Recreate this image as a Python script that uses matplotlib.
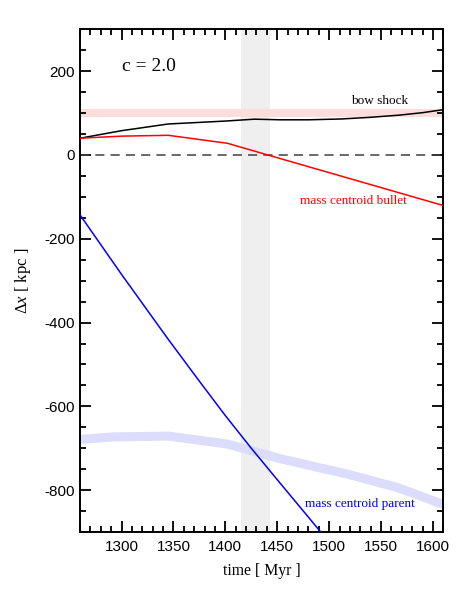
import matplotlib
matplotlib.use("Agg")
import matplotlib.pyplot as plt

# Curvas (tempo em Myr, deslocamento em kpc)
t_bow = [1260, 1300, 1345, 1400, 1428, 1453, 1480, 1512, 1540, 1567, 1590, 1612]
x_bow = [40, 58, 74, 81, 85.5, 84, 84, 86, 90, 95, 101, 109]

t_bullet = [1260, 1300, 1345, 1402, 1441, 1612]
x_bullet = [40, 45, 47, 28, 0, -122]

t_parent = [1260, 1300, 1345, 1375, 1400, 1425, 1450, 1500]
x_parent = [-143, -285, -440, -540, -622, -700, -775, -924]

# faixa azul (posição esperada do pai)
t_band = [1260, 1292, 1345, 1402, 1453, 1518, 1566, 1612]
x_band = [-679, -673, -671, -690, -725, -762, -794, -836]

# faixa rosa (choque esperado) e faixa cinza (instante de observação)
BOW_LO, BOW_HI = 90, 110
T_OBS_LO, T_OBS_HI = 1415, 1443

SERIF = "Liberation Serif"
SANS = "Liberation Sans"

plt.rcParams["axes.unicode_minus"] = False
plt.rcParams["mathtext.fontset"] = "custom"
plt.rcParams["mathtext.rm"] = SERIF
plt.rcParams["mathtext.it"] = SERIF + ":italic"

fig = plt.figure(figsize=(4.72, 5.91), dpi=100)
ax = fig.add_axes([0.1695, 0.0998, 0.7697, 0.8506])

ax.axvspan(T_OBS_LO, T_OBS_HI, color="#efefef", lw=0, zorder=0)
ax.axhspan(BOW_LO, BOW_HI, color="#fddcdc", lw=0, zorder=0)
ax.plot(t_band, x_band, color="#dcdcfc", lw=6.5, solid_capstyle="butt", zorder=1)

ax.axhline(0, color="#404040", lw=1.1, ls=(0, (6, 4)), zorder=2)
ax.plot(t_bow, x_bow, color="black", lw=1.1, zorder=3)
ax.plot(t_bullet, x_bullet, color="red", lw=1.1, zorder=3)
ax.plot(t_parent, x_parent, color="blue", lw=1.1, zorder=3)

ax.text(1300, 200, "c = 2.0", family=SERIF, fontsize=14, ha="left", va="baseline")
ax.text(1549, 121, "bow shock", family=SERIF, fontsize=9.5, ha="center", va="baseline")
ax.text(1523, -117, "mass centroid bullet", family=SERIF, fontsize=9.5,
        color="red", ha="center", va="baseline")
ax.text(1530, -841, "mass centroid parent", family=SERIF, fontsize=9.5,
        color="blue", ha="center", va="baseline")

ax.set_xlim(1260, 1610)
ax.set_ylim(-900, 300)
ax.set_xticks(range(1300, 1601, 50))
ax.set_xticks(range(1260, 1611, 10), minor=True)
ax.set_yticks(range(-800, 201, 200))
ax.set_yticks(range(-900, 301, 50), minor=True)

ax.tick_params(which="both", direction="in", top=True, right=True, width=1.3)
ax.tick_params(which="major", length=7.7)
ax.tick_params(which="minor", length=4.3)
ax.tick_params(axis="x", pad=6)
ax.tick_params(axis="y", pad=3.5)
for lab in ax.get_xticklabels() + ax.get_yticklabels():
    lab.set_family(SANS)
    lab.set_fontsize(11)

for sp in ax.spines.values():
    sp.set_linewidth(1.4)

ax.set_xlabel("time [ Myr ]", family=SERIF, fontsize=11.3)
ax.set_ylabel(r"$\Delta x$ [ kpc ]", family=SERIF, fontsize=12)
ax.xaxis.set_label_coords(0.5, -0.062)
ax.yaxis.set_label_coords(-0.129, 0.5)

fig.savefig("out.png", dpi=100)
